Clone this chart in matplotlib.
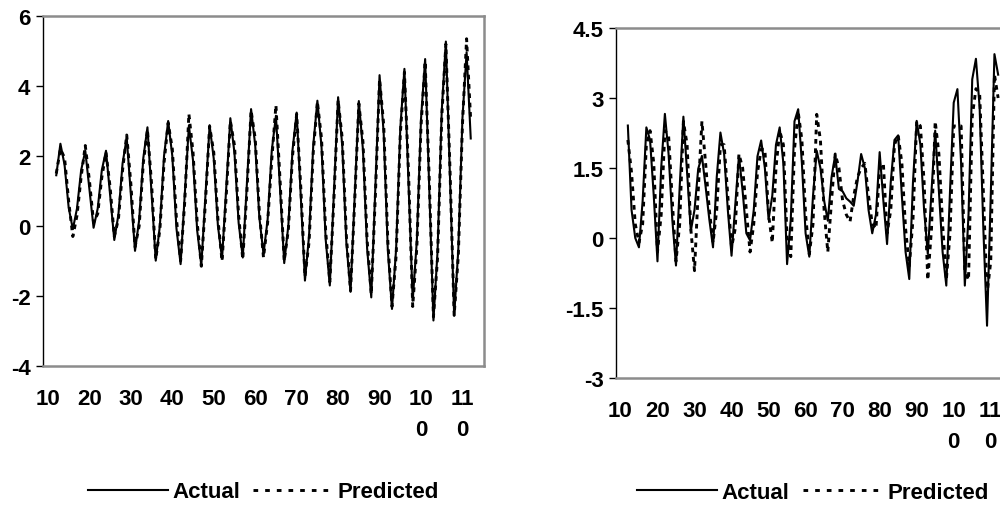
import numpy as np
import matplotlib
matplotlib.use("Agg")
import matplotlib.pyplot as plt
from matplotlib.lines import Line2D

# ---------------- data ----------------
x_start, x_end = 12, 112
periods = np.arange(x_start, x_end + 1)

left_actual = [
    1.45, 2.35, 1.75, 0.52, -0.09, 0.5, 1.59, 2.15, 1.05, -0.05,
    0.5, 1.6, 2.15, 0.88, -0.4, 0.33, 1.79, 2.52, 0.9, -0.71,
    0.17, 1.94, 2.82, 0.92, -0.99, 0.01, 2.0, 3.0, 2.0, -0.07,
    -1.09, 0.89, 2.87, 1.87, -0.13, -1.13, 0.88, 2.88, 1.92, 0.01,
    -0.94, 1.07, 3.08, 2.08, 0.09, -0.9, 1.22, 3.34, 2.31, 0.24,
    -0.8, 0.19, 2.16, 3.15, 1.05, -1.06, 0.02, 2.17, 3.24, 0.84,
    -1.56, -0.27, 2.3, 3.58, 2.26, -0.38, -1.7, 0.99, 3.68, 2.29,
    -0.49, -1.88, 0.85, 3.57, 2.17, -0.64, -2.04, 1.14, 4.31, 2.64,
    -0.7, -2.37, -0.65, 2.78, 4.49, 1.18, -2.13, -0.41, 3.05, 4.77,
    1.04, -2.7, -0.71, 3.28, 5.27, 1.36, -2.56, -0.68, 3.08, 4.96,
    2.5,
]
left_predicted = [
    1.5, 2.2, 1.95, 0.7, -0.3, 0.3, 1.4, 2.3, 1.3, 0.1,
    0.35, 1.4, 2.1, 1.1, -0.3, 0.2, 1.6, 2.6, 1.2, -0.6,
    0.0, 1.8, 2.75, 1.2, -0.95, -0.1, 1.8, 2.95, 2.2, 0.2,
    -1.0, 0.7, 3.2, 2.1, 0.1, -1.15, 0.7, 2.85, 2.1, 0.2,
    -1.0, 0.85, 3.0, 2.3, 0.3, -0.95, 1.0, 3.3, 2.5, 0.4,
    -0.9, 0.1, 1.9, 3.45, 1.3, -1.0, -0.1, 2.0, 3.2, 1.1,
    -1.45, -0.45, 2.1, 3.55, 2.5, -0.15, -1.6, 0.8, 3.6, 2.5,
    -0.3, -1.85, 0.7, 3.5, 2.4, -0.4, -1.95, 0.9, 4.2, 2.9,
    -0.45, -2.3, -0.85, 2.6, 4.4, 1.5, -2.3, -0.6, 2.85, 4.7,
    1.3, -2.6, -0.9, 3.1, 5.2, 1.6, -2.55, -0.85, 2.9, 5.35,
    3.0,
]
right_actual = [
    2.41, 0.6, 0.0, -0.2, 0.8, 2.37, 2.1, 0.9, -0.5, 1.5,
    2.66, 1.8, 0.4, -0.59, 1.1, 2.6, 1.4, 0.15, 0.6, 1.48,
    1.76, 1.1, 0.4, -0.2, 1.3, 2.26, 1.8, 0.6, -0.38, 0.7,
    1.76, 1.0, 0.1, -0.05, 0.6, 1.75, 2.09, 1.5, 0.4, 0.9,
    2.0, 2.37, 1.6, -0.56, 0.4, 2.5, 2.76, 1.6, 0.1, -0.4,
    0.9, 1.87, 1.5, 0.8, 0.37, 1.3, 1.78, 1.05, 1.0, 0.85,
    0.78, 0.69, 1.2, 1.8, 1.5, 0.6, 0.1, 0.5, 1.84, 0.8,
    -0.13, 1.2, 2.1, 2.2, 0.9, -0.3, -0.88, 1.2, 2.51, 2.0,
    0.6, -0.34, 1.0, 2.3, 1.0, -0.3, -1.02, 1.0, 2.9, 3.19,
    1.6, -1.02, 0.5, 3.4, 3.84, 2.8, 0.2, -1.88, 0.9, 3.94,
    3.5,
]
right_predicted = [
    2.1, 1.4, 0.3, -0.1, 0.3, 2.0, 2.3, 1.6, -0.3, 0.5,
    2.3, 2.2, 0.8, -0.5, 0.3, 2.5, 2.0, 0.2, -0.7, 1.0,
    2.5, 1.6, 0.6, -0.1, 0.6, 2.0, 2.0, 0.9, -0.2, 0.2,
    1.8, 1.5, 0.6, -0.3, 0.3, 1.4, 1.9, 1.9, 0.5, -0.1,
    1.5, 2.3, 2.0, 0.0, -0.4, 1.9, 2.7, 2.1, 0.5, -0.35,
    0.3, 2.65, 2.1, 0.6, -0.3, 0.8, 1.8, 1.5, 0.8, 0.5,
    0.35, 0.9, 1.3, 1.5, 1.6, 0.9, 0.3, 0.2, 1.5, 1.6,
    0.1, 0.6, 2.0, 2.2, 1.6, 0.2, -0.6, 0.4, 2.5, 2.4,
    1.2, -0.9, 0.2, 2.5, 1.8, 0.3, -0.9, 0.1, 2.4, 2.4,
    2.4, -0.7, -0.9, 2.6, 3.2, 3.1, 1.0, -1.2, -0.5, 3.5,
    3.0,
]

x_ticks = [10, 20, 30, 40, 50, 60, 70, 80, 90, 100, 110]
x_ticklabels = ["10", "20", "30", "40", "50", "60", "70", "80", "90", "10\n0", "11\n0"]
left_yticks = [-4, -2, 0, 2, 4, 6]
left_yticklabels = ["-4", "-2", "0", "2", "4", "6"]
right_yticks = [-3, -1.5, 0, 1.5, 3, 4.5]
right_yticklabels = ["-3", "-1.5", "0", "1.5", "3", "4.5"]
legend_labels = ["Actual", "Predicted"]

# ---------------- style ----------------
plt.rcParams["font.family"] = ["Liberation Sans", "DejaVu Sans"]
plt.rcParams["font.weight"] = "bold"
FS = 16
W, H = 1000, 506
fig = plt.figure(figsize=(W / 100, H / 100), dpi=100)
fig.patch.set_facecolor("white")

DOT = (0, (1.6, 1.6))
LW_A = 1.5
LW_P = 2.1


def make_panel(rect, actual, predicted, yticks, yticklabels, ylim, legend_y):
    ax = fig.add_axes(rect)
    ax.plot(periods, actual, color="black", lw=LW_A)
    ax.plot(periods, predicted, color="black", lw=LW_P, linestyle=DOT)
    ax.set_xlim(8.8, 115.2)
    ax.set_ylim(*ylim)
    ax.set_yticks(yticks)
    ax.set_yticklabels(yticklabels, fontsize=FS, fontweight="bold")
    ax.set_xticks(x_ticks)
    ax.set_xticklabels(x_ticklabels, fontsize=FS, fontweight="bold",
                       linespacing=1.6, va="top")
    ax.tick_params(axis="x", length=0, pad=16)
    ax.tick_params(axis="y", direction="out", length=5, width=1, color="black", pad=4)
    for side in ("top", "right", "bottom"):
        ax.spines[side].set_color("#8c8c8c")
        ax.spines[side].set_linewidth(1.8)
    ax.spines["left"].set_color("black")
    ax.spines["left"].set_linewidth(1.0)
    handles = [Line2D([], [], color="black", lw=LW_A),
               Line2D([], [], color="black", lw=LW_P, linestyle=(0, (1.6, 2.4)))]
    ax.legend(handles, legend_labels, loc="center", bbox_to_anchor=(0.5, legend_y),
              ncol=2, frameon=False, handlelength=3.6, handletextpad=0.2,
              columnspacing=0.6, prop={"size": FS, "weight": "bold"})
    return ax


make_panel([43 / W, (H - 367) / H, 441 / W, 350 / H],
           left_actual, left_predicted, left_yticks, left_yticklabels, (-4, 6), -0.36)
make_panel([616 / W, (H - 379) / H, 394 / W, 350 / H],
           right_actual, right_predicted, right_yticks, right_yticklabels, (-3, 4.5), -0.326)

fig.savefig("out.png", dpi=100, facecolor="white")
